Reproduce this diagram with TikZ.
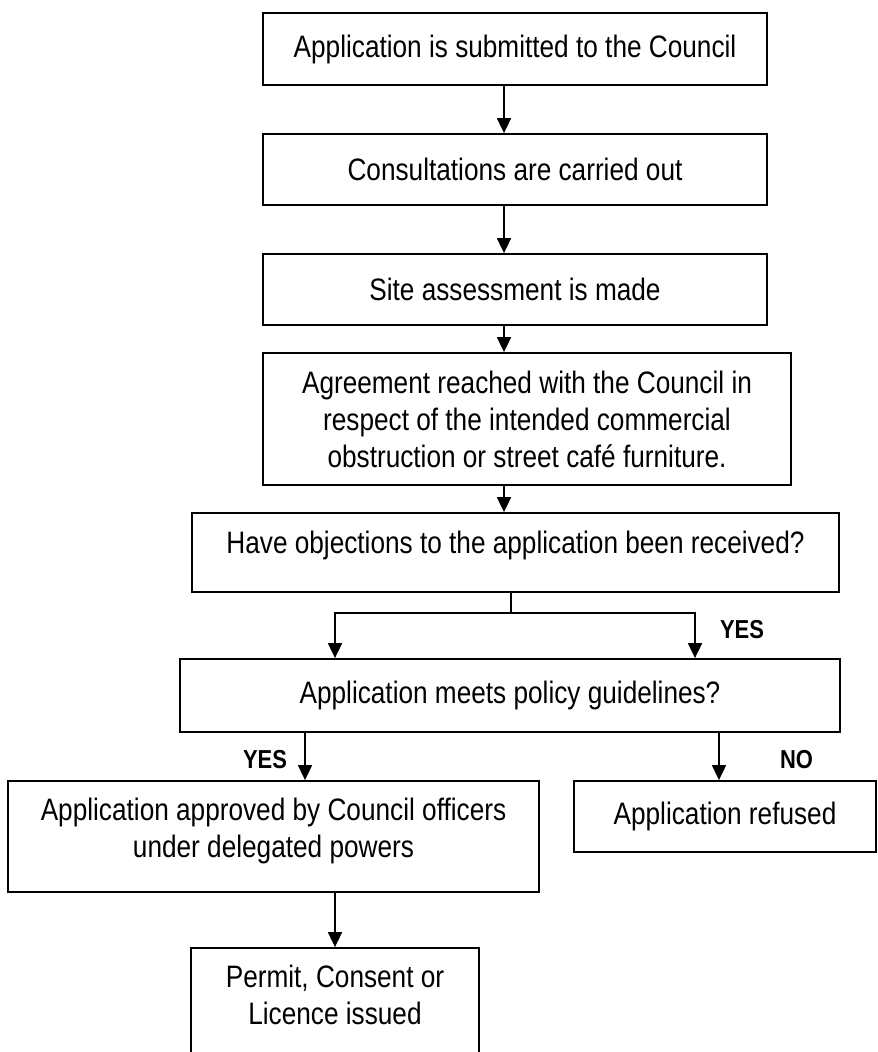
\documentclass[tikz,border=0pt]{standalone}
\usepackage{fontspec}
\setmainfont[FakeStretch=0.845]{Liberation Sans}
\usetikzlibrary{arrows.meta}
\begin{document}
\begin{tikzpicture}[x=1pt,y=-1pt,
  box/.style={draw=black, line width=1.8pt, rectangle, inner sep=0pt, align=center,
    font=\fontsize{31}{37}\selectfont},
  txt/.style={inner sep=0pt, align=center, font=\fontsize{31}{37}\selectfont},
  lbl/.style={inner sep=0pt, font=\fontsize{26}{30}\selectfont\bfseries},
  arr/.style={line width=1.8pt, -{Triangle[length=15pt,width=14pt]}},
  ln/.style={line width=1.8pt}]
\useasboundingbox (0,0) rectangle (878,1052);
\clip (0,0) rectangle (878,1052);
% boxes
\node[box, minimum width=504pt, minimum height=72pt] (b1) at (515,49) {Application is submitted to the Council};
\node[box, minimum width=504pt, minimum height=71pt] (b2) at (515,169.5) {Consultations are carried out};
\node[box, minimum width=504pt, minimum height=71pt] (b3) at (515,289.5) {Site assessment is made};
\node[box, minimum width=528pt, minimum height=132pt] (b4) at (527,419) {Agreement reached with the Council in\\respect of the intended commercial\\obstruction or street café furniture.};
\node[box, minimum width=647pt, minimum height=79pt] (b5) at (515.5,552.5) {};
\node[txt] (t5) at (515.5,545.5) {Have objections to the application been received?};
\node[box, minimum width=660pt, minimum height=73pt] (b6) at (510,695.5) {Application meets policy guidelines?};
\node[box, minimum width=531pt, minimum height=111pt] (b7) at (273.5,836.5) {};
\node[txt] (t7) at (273.5,830.5) {Application approved by Council officers\\under delegated powers};
\node[box, minimum width=302pt, minimum height=71pt] (b8) at (725,816.5) {Application refused};
\node[box, minimum width=288pt, minimum height=112pt] (b9) at (335,1004) {};
\node[txt] (t9) at (335,995) {Permit, Consent or\\Licence issued};
% connector columns
\coordinate (cx) at (504,0);
\coordinate (jn) at (511,613);
\coordinate (bl) at (335,0);
\coordinate (br) at (695,0);
\coordinate (yl) at (305,0);
\coordinate (nr) at (719,0);
% connectors
\draw[arr] (b1.south -| cx) -- (b2.north -| cx);
\draw[arr] (b2.south -| cx) -- (b3.north -| cx);
\draw[arr] (b3.south -| cx) -- (b4.north -| cx);
\draw[arr] (b4.south -| cx) -- (b5.north -| cx);
\draw[ln] (b5.south -| jn) -- (jn);
\draw[arr] (jn) -| (b6.north -| bl);
\draw[arr] (jn) -| (b6.north -| br);
\draw[arr] (b6.south -| yl) -- (b7.north -| yl);
\draw[arr] (b6.south -| nr) -- (b8.north -| nr);
\draw[arr] (b7.south -| b9.north) -- (b9.north);
% labels
\node[lbl] (yes1) at (742,630) {YES};
\node[lbl] (yes2) at (265,760) {YES};
\node[lbl] (no) at (796.5,760) {NO};
\end{tikzpicture}
\end{document}
